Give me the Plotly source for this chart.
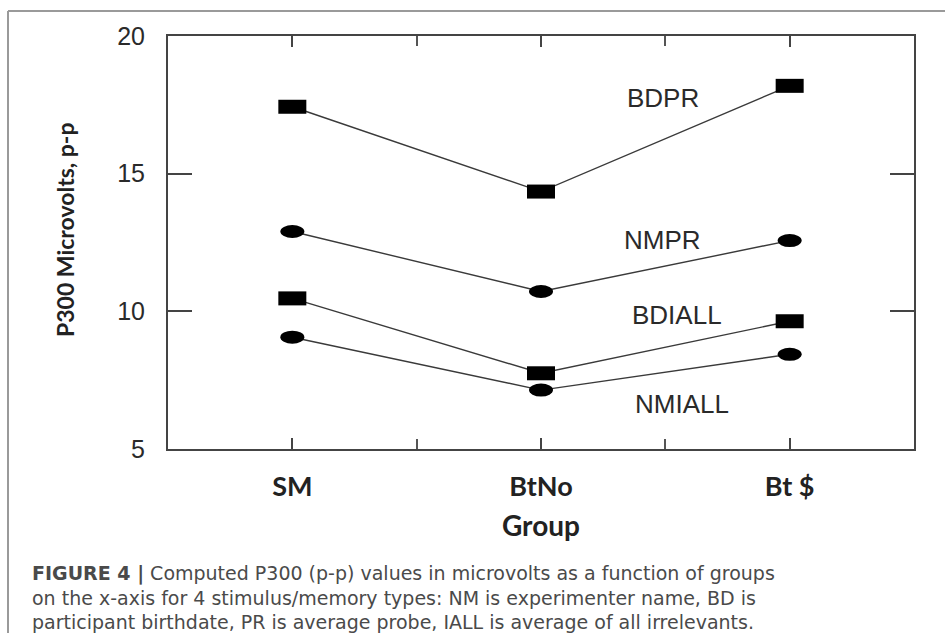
import plotly.graph_objects as go

# ---- data ----
groups = ["SM", "BtNo", "Bt $"]
series_names = ["BDPR", "NMPR", "BDIALL", "NMIALL"]
bdpr = [17.43, 14.35, 18.19]
nmpr = [12.90, 10.72, 12.57]
bdiall = [10.47, 7.75, 9.64]
nmiall = [9.06, 7.14, 8.44]
series_values = [bdpr, nmpr, bdiall, nmiall]
series_symbols = ["square", "circle", "square", "circle"]
y_ticks = [5, 10, 15, 20]
x_title = "Group"
y_title = "P300 Microvolts, p-p"
caption_lines = [
    "<b>FIGURE 4 |</b> Computed P300 (p-p) values in microvolts as a function of groups",
    "on the x-axis for 4 stimulus/memory types: NM is experimenter name, BD is",
    "participant birthdate, PR is average probe, IALL is average of all irrelevants.",
]

# ---- layout geometry (pixels) ----
W, H = 945, 633
L, R, T, B = 168, 914, 36, 449


def px(x):
    return (x - L) / (R - L)


def py(y):
    return (B - y) / (B - T)


xs = list(range(len(groups)))
fig = go.Figure()

for name, vals in zip(series_names, series_values):
    fig.add_trace(go.Scatter(x=xs, y=vals, mode="lines", name=name,
                             line=dict(color="#3a3a3a", width=1.4),
                             showlegend=False, hoverinfo="skip"))

shapes = []
# markers drawn at data coordinates with pixel sizing
for vals, sym in zip(series_values, series_symbols):
    for xi, v in zip(xs, vals):
        if sym == "square":
            hw, hh, typ = 14, 7, "rect"
        else:
            hw, hh, typ = 12, 6.5, "circle"
        shapes.append(dict(type=typ, xref="x", yref="y",
                           xsizemode="pixel", ysizemode="pixel",
                           xanchor=xi, yanchor=v,
                           x0=-hw, x1=hw, y0=-hh, y1=hh,
                           fillcolor="black", line=dict(width=0)))

# outer figure frame (left and top edges)
shapes.append(dict(type="line", xref="paper", yref="paper",
                   x0=px(8), x1=px(8), y0=py(633), y1=py(11),
                   line=dict(color="#9a9a9a", width=2)))
shapes.append(dict(type="line", xref="paper", yref="paper",
                   x0=px(8), x1=px(945), y0=py(11), y1=py(11),
                   line=dict(color="#9a9a9a", width=2)))

annotations = []
label_pos = [(663, 98), (662, 240), (677, 315), (682, 404)]
for name, (lx, ly) in zip(series_names, label_pos):
    annotations.append(dict(text=name, xref="paper", yref="paper",
                            x=px(lx), y=py(ly), xanchor="center", yanchor="middle",
                            showarrow=False,
                            font=dict(family="Liberation Sans", size=26, color="#2a2a2a")))

annotations.append(dict(text=f"<b>{x_title}</b>", xref="paper", yref="paper",
                        x=px(541), y=py(525), xanchor="center", yanchor="middle",
                        showarrow=False,
                        font=dict(family="Lato", size=28, color="#222222")))
annotations.append(dict(text=f"<b>{y_title}</b>", xref="paper", yref="paper",
                        x=px(65), y=py(230), xanchor="center", yanchor="middle",
                        textangle=-90, showarrow=False,
                        font=dict(family="Lato", size=23, color="#222222")))

annotations.append(dict(text="<br>".join(caption_lines), xref="paper", yref="paper",
                        x=px(30), y=py(597), xanchor="left", yanchor="middle",
                        align="left", showarrow=False,
                        font=dict(family="DejaVu Sans", size=19, color="#4a4a4a")))

fig.update_layout(
    width=W, height=H,
    margin=dict(l=L, r=W - R, t=T, b=H - B, pad=0),
    paper_bgcolor="white", plot_bgcolor="white",
    shapes=shapes, annotations=annotations,
    xaxis=dict(range=[-0.5, 2.5], tickmode="array", tickvals=xs, ticktext=groups,
               ticks="inside", ticklen=11, tickwidth=2, tickcolor="#444",
               showline=True, linecolor="#444", linewidth=2, mirror="ticks",
               showgrid=False, zeroline=False,
               minor=dict(tickmode="array", tickvals=[0.5, 1.5], ticks="inside",
                          ticklen=10, tickwidth=1.5, tickcolor="#555"),
               ticklabelstandoff=13,
               tickfont=dict(family="Lato", size=27, color="#222222", weight="bold")),
    yaxis=dict(range=[5, 20], tickmode="array", tickvals=y_ticks,
               ticks="inside", ticklen=24, tickwidth=1.5, tickcolor="#444",
               showline=True, linecolor="#444", linewidth=2, mirror="ticks",
               showgrid=False, zeroline=False,
               ticklabelstandoff=16,
               tickfont=dict(family="Liberation Sans", size=25, color="#2a2a2a")),
)

fig.write_html("out.html")
